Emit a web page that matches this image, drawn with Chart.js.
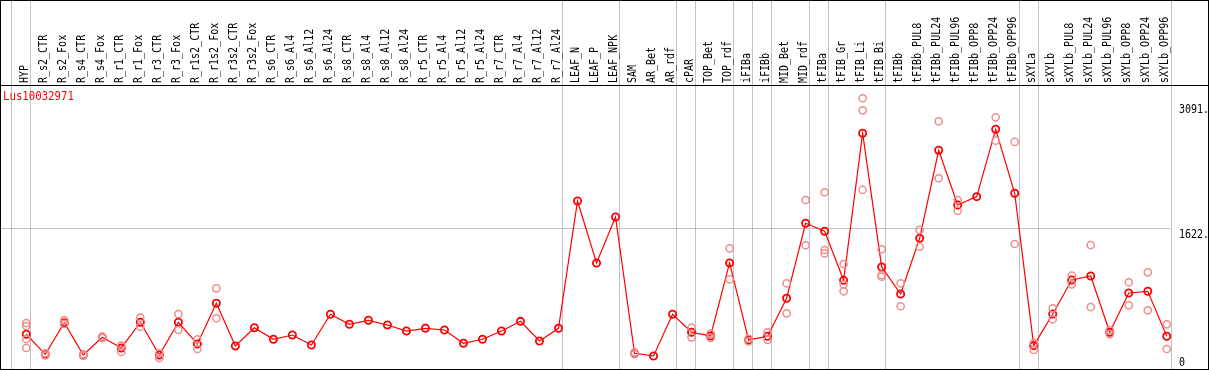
<!DOCTYPE html>
<html>
<head>
<meta charset="utf-8">
<script src="https://cdn.jsdelivr.net/npm/chart.js@4.4.1/dist/chart.umd.min.js"></script>
<style>
html,body{margin:0;padding:0;background:#fff;}
#wrap{width:1209px;height:370px;}
</style>
</head>
<body>
<div id="wrap"><canvas id="c" width="1209" height="370"></canvas></div>
<script>
const geneName = "Lus10032971";
const categories = ["HYP","R_s2_CTR","R_s2_Fox","R_s4_CTR","R_s4_Fox","R_r1_CTR","R_r1_Fox","R_r3_CTR","R_r3_Fox","R_r1s2_CTR","R_r1s2_Fox","R_r3s2_CTR","R_r3s2_Fox","R_s6_CTR","R_s6_Al4","R_s6_Al12","R_s6_Al24","R_s8_CTR","R_s8_Al4","R_s8_Al12","R_s8_Al24","R_r5_CTR","R_r5_Al4","R_r5_Al12","R_r5_Al24","R_r7_CTR","R_r7_Al4","R_r7_Al12","R_r7_Al24","LEAF_N","LEAF_P","LEAF_NPK","SAM","AR_Bet","AR_rdf","cPAR","TOP_Bet","TOP_rdf","iFIBa","iFIBb","MID_Bet","MID_rdf","tFIBa","tFIB_Gr","tFIB_Li","tFIB_Bi","tFIBb","tFIBb_PUL8","tFIBb_PUL24","tFIBb_PUL96","tFIBb_OPP8","tFIBb_OPP24","tFIBb_OPP96","sXYLa","sXYLb","sXYLb_PUL8","sXYLb_PUL24","sXYLb_PUL96","sXYLb_OPP8","sXYLb_OPP24","sXYLb_OPP96"];
const meanValues = [373,137,509,129,337,212,514,129,514,259,737,235,450,314,364,247,608,490,537,482,411,443,423,267,314,411,525,294,443,1939,1211,1751,149,118,608,396,353,1211,306,349,796,1677,1583,1007,2735,1164,846,1501,2535,1892,1990,2782,2030,239,611,1011,1058,396,858,878,349];
const rep1 = [505,150,540,135,345,239,568,149,611,314,913,null,null,null,null,null,null,null,null,null,null,null,null,null,null,null,null,null,null,null,null,null,160,null,null,450,380,1383,290,396,972,1951,2042,1199,3147,1372,972,1599,2876,1951,null,2923,2633,270,678,1061,1422,423,984,1101,490];
const rep2 = [317,125,495,120,330,165,462,94,423,200,561,null,null,null,null,null,null,null,null,null,null,null,null,null,null,null,null,null,null,null,null,null,140,null,null,337,330,1019,320,306,619,1419,1363,960,3005,1070,702,1402,2206,1825,null,2648,1434,188,549,960,693,373,713,655,200];
const rep3 = [212,null,null,null,null,null,null,null,null,null,null,null,null,null,null,null,null,null,null,null,null,null,null,null,null,null,null,null,null,null,null,null,null,null,null,null,null,null,null,null,null,null,1324,878,2069,1050,null,null,null,null,null,null,null,null,null,null,null,null,null,null,null];
const rep4 = [470,null,null,null,null,null,null,null,null,null,null,null,null,null,null,null,null,null,null,null,null,null,null,null,null,null,null,null,null,null,null,null,null,null,null,null,null,null,null,null,null,null,null,null,null,null,null,null,null,null,null,null,null,null,null,null,null,null,null,null,null];
const groupBoundaries = [-1,0,28,31,34,35,37,38,39,41,42,45,52,53,60];
const yTickValues = [3091,1622,0];
const yTickLabels = ["3091.","1622.","0"];

function repPoints(){
  const pts=[];
  [rep1,rep2,rep3,rep4].forEach(r=>r.forEach((v,i)=>{ if(v!==null) pts.push({x:i,y:v}); }));
  return pts;
}
const meanPts = meanValues.map((v,i)=>({x:i,y:v}));

const FONT = '10px "DejaVu Sans Mono", monospace';
function stretchText(ctx, txt, x, y, align, baseline, rotate, color, sx){
  ctx.save();
  ctx.translate(x,y);
  if(rotate) ctx.rotate(-Math.PI/2);
  ctx.scale(sx || 1,1.2);
  ctx.font = FONT;
  ctx.fillStyle = color || '#000';
  ctx.textAlign = align;
  ctx.textBaseline = baseline;
  ctx.fillText(txt,0,0);
  ctx.restore();
}

const decor = {
  id:'decor',
  beforeDatasetsDraw(chart){
    const ctx = chart.ctx, xs = chart.scales.x, ys = chart.scales.y, a = chart.chartArea;
    ctx.save();
    ctx.strokeStyle = '#c0c0c0';
    ctx.lineWidth = 1;
    groupBoundaries.forEach(b=>{
      const px = Math.round(xs.getPixelForValue(b+0.2))+0.5;
      ctx.beginPath(); ctx.moveTo(px,0); ctx.lineTo(px,a.bottom); ctx.stroke();
    });
    const gy = Math.round(ys.getPixelForValue(1622))+0.5;
    ctx.beginPath(); ctx.moveTo(a.left,gy); ctx.lineTo(a.right,gy); ctx.stroke();
    ctx.restore();
  },
  afterDraw(chart){
    const ctx = chart.ctx, xs = chart.scales.x, ys = chart.scales.y, a = chart.chartArea;
    ctx.save();
    categories.forEach((c,i)=>{
      const px = xs.getPixelForValue(i)-1.5;
      stretchText(ctx,c,px,83,'left','middle',true,'#000');
    });
    yTickValues.forEach((v,k)=>{
      const py = ys.getPixelForValue(v);
      if(v===0) stretchText(ctx,yTickLabels[k],a.right+9,py,'left','alphabetic',false,'#000');
      else stretchText(ctx,yTickLabels[k],a.right+9,py+1,'left','top',false,'#000');
    });
    stretchText(ctx,geneName,3,97,'left','middle',false,'#ff0000',1.07);
    ctx.strokeStyle='#000'; ctx.lineWidth=1;
    ctx.strokeRect(0.5,0.5,1208,369);
    ctx.beginPath(); ctx.moveTo(0,85.5); ctx.lineTo(1209,85.5); ctx.stroke();
    ctx.restore();
  }
};

new Chart(document.getElementById('c'),{
  type:'scatter',
  data:{datasets:[
    {label:'replicates',data:repPoints(),showLine:false,pointStyle:'circle',pointRadius:3.6,pointBorderWidth:1.5,
     borderColor:'rgb(240,140,140)',backgroundColor:'rgba(0,0,0,0)',pointBackgroundColor:'rgba(0,0,0,0)',clip:false},
    {label:'mean',data:meanPts,showLine:true,borderColor:'#ff0000',borderWidth:1.2,pointStyle:'circle',pointRadius:3.6,pointBorderWidth:1.8,
     pointBorderColor:'#ff0000',pointBackgroundColor:'rgba(0,0,0,0)',backgroundColor:'rgba(0,0,0,0)',tension:0,clip:false}
  ]},
  options:{
    responsive:false,animation:false,
    layout:{autoPadding:false,padding:{left:1,top:86,right:39,bottom:1}},
    plugins:{legend:{display:false},tooltip:{enabled:false}},
    scales:{
      x:{type:'linear',min:-1.33,max:60.17,display:false},
      y:{type:'linear',min:-35.3,max:3290.7,display:false}
    }
  },
  plugins:[decor]
});
</script>
</body>
</html>
